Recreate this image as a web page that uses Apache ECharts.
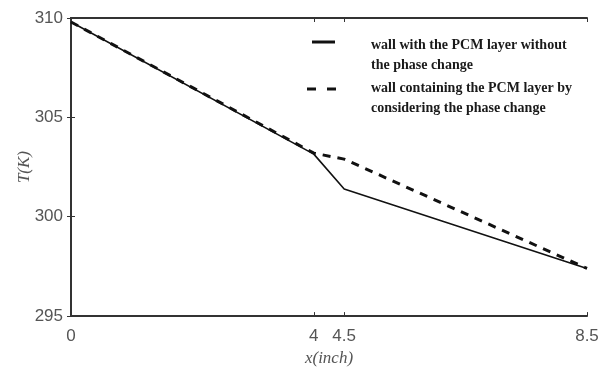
<!DOCTYPE html>
<html>
<head>
<meta charset="utf-8">
<script src="https://cdn.jsdelivr.net/npm/echarts@6/dist/echarts.min.js"></script>
<style>
  html, body { margin: 0; padding: 0; background: #fff; }
  #chart { width: 603px; height: 372px; }
</style>
</head>
<body>
<div id="chart"></div>
<script>
// Temperature profile across the wall thickness
const xPositions = [0, 4, 4.5, 8.5];                 // inch
const tempNoPhaseChange = [309.8, 303.15, 301.4, 297.4]; // K
const tempPhaseChange = [309.8, 303.2, 302.9, 297.4];    // K
const xTickValues = [0, 4, 4.5, 8.5];
const legendNames = [
  'wall with the PCM layer without\nthe phase change',
  'wall containing the PCM layer by\nconsidering the phase change'
];

const toPairs = (xs, ys) => xs.map((x, i) => [x, ys[i]]);

const axisColor = '#333';
const labelStyle = { color: '#555', fontFamily: 'Liberation Sans, Arial, sans-serif', fontSize: 17 };
const nameStyle = { color: '#555', fontFamily: 'Liberation Serif, Times New Roman, serif', fontStyle: 'italic', fontSize: 17 };

const chart = echarts.init(document.getElementById('chart'), null, { renderer: 'canvas' });

const plot = { left: 71, right: 16, top: 18, bottom: 55 };

chart.setOption({
  animation: false,
  backgroundColor: '#fff',
  grid: { left: plot.left, right: plot.right, top: plot.top, bottom: plot.bottom, show: false },
  xAxis: [
    {
      type: 'value', min: 0, max: 8.5, position: 'bottom',
      name: 'x(inch)', nameLocation: 'middle', nameGap: 32, nameTextStyle: nameStyle,
      axisLine: { show: true, lineStyle: { color: axisColor, width: 2 } },
      axisTick: { show: true, inside: true, length: 4, customValues: xTickValues, lineStyle: { color: axisColor } },
      axisLabel: { show: true, customValues: xTickValues, margin: 12, ...labelStyle },
      splitLine: { show: false }
    },
    {
      type: 'value', min: 0, max: 8.5, position: 'top',
      axisLine: { show: true, lineStyle: { color: axisColor, width: 2 } },
      axisTick: { show: true, inside: true, length: 4, customValues: xTickValues, lineStyle: { color: axisColor } },
      axisLabel: { show: false },
      splitLine: { show: false }
    }
  ],
  yAxis: [
    {
      type: 'value', min: 295, max: 310, interval: 5, position: 'left',
      name: 'T(K)', nameLocation: 'middle', nameGap: 38, nameRotate: 90, nameMoveOverlap: false,
      nameTextStyle: nameStyle,
      axisLine: { show: true, lineStyle: { color: axisColor, width: 2 } },
      axisTick: { show: true, inside: true, length: 4, lineStyle: { color: axisColor } },
      axisLabel: { show: true, margin: 8, ...labelStyle },
      splitLine: { show: false }
    },
    {
      type: 'value', min: 295, max: 310, interval: 5, position: 'right',
      axisLine: { show: true, lineStyle: { color: axisColor, width: 2 } },
      axisTick: { show: true, inside: true, length: 4, lineStyle: { color: axisColor } },
      axisLabel: { show: false },
      splitLine: { show: false }
    }
  ],
  series: [
    {
      name: legendNames[0], type: 'line', xAxisIndex: 0, yAxisIndex: 0,
      data: toPairs(xPositions, tempNoPhaseChange),
      showSymbol: false, symbol: 'none',
      lineStyle: { color: '#111', width: 1.6, type: 'solid' },
      z: 2
    },
    {
      name: legendNames[1], type: 'line', xAxisIndex: 0, yAxisIndex: 0,
      data: toPairs(xPositions, tempPhaseChange),
      showSymbol: false, symbol: 'none',
      lineStyle: { color: '#111', width: 3, type: [8, 7] },
      z: 3
    }
  ],
  graphic: [
    // legend keys
    { type: 'line', shape: { x1: 312, y1: 42, x2: 335, y2: 42 }, style: { stroke: '#111', lineWidth: 3 } },
    { type: 'line', shape: { x1: 307, y1: 89, x2: 341, y2: 89 }, style: { stroke: '#111', lineWidth: 3, lineDash: [9, 11] } },
    // legend labels
    { type: 'text', left: 371, top: 35, style: { text: legendNames[0], fill: '#1a1a1a', font: 'bold 14px "Liberation Serif", "Times New Roman", serif', lineHeight: 20 } },
    { type: 'text', left: 371, top: 78, style: { text: legendNames[1], fill: '#1a1a1a', font: 'bold 14px "Liberation Serif", "Times New Roman", serif', lineHeight: 20 } }
  ]
});
</script>
</body>
</html>
